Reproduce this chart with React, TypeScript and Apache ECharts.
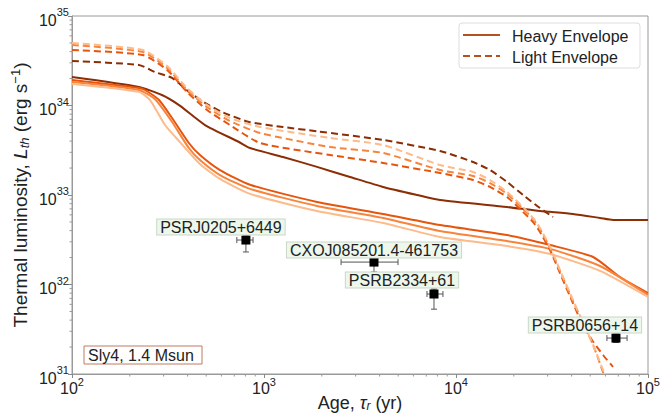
import React, { useEffect, useRef } from 'react';
import * as echarts from 'echarts';

// ---- Heavy envelope cooling curves (solid) ----
const heavyAge1 = [100, 223, 294, 361, 493, 741, 845, 1256, 1888, 2805, 4170, 6270, 8260, 18440, 27380, 40650, 56230, 65750, 100000];
const heavyLum1 = [2.08e34, 1.61e34, 1.31e34, 1.01e34, 6.05e33, 3.91e33, 3.35e33, 2.66e33, 2.06e33, 1.59e33, 1.23e33, 1.0e33, 8.79e32, 7.34e32, 6.62e32, 6.14e32, 5.54e32, 5.26e32, 5.26e32];
const heavyAge2 = [100, 223, 240, 284, 332, 406, 464, 590, 845, 1888, 4170, 8260, 18440, 30900, 51800, 71500, 100000];
const heavyLum2 = [1.93e34, 1.57e34, 1.49e34, 1.15e34, 7.24e33, 3.81e33, 2.80e33, 1.90e33, 1.30e33, 8.36e32, 6.14e32, 4.62e32, 3.57e32, 2.76e32, 2.03e32, 1.21e32, 8.03e31];
const heavyAge3 = [100, 223, 270, 332, 406, 464, 590, 845, 1888, 4170, 8260, 18440, 30900, 56230, 100000];
const heavyLum3 = [1.83e34, 1.49e34, 1.18e34, 6.55e33, 3.35e33, 2.46e33, 1.67e33, 1.17e33, 7.54e32, 5.54e32, 3.96e32, 3.06e32, 2.50e32, 1.61e32, 7.64e31];
const heavyAge4 = [100, 223, 255, 305, 365, 464, 590, 845, 1888, 4170, 8260, 18440, 30900, 56230, 100000];
const heavyLum4 = [1.74e34, 1.42e34, 1.15e34, 6.05e33, 3.9e33, 2.22e33, 1.51e33, 1.03e33, 6.62e32, 4.87e32, 3.40e32, 2.69e32, 2.19e32, 1.42e32, 7.25e31];

// ---- Light envelope cooling curves (dashed) ----
const lightAge1 = [100, 223, 270, 332, 406, 493, 604, 836, 1256, 1888, 4170, 8260, 12270, 15040, 18440, 22340, 27380, 32000];
const lightLum1 = [3.14e34, 2.84e34, 2.37e34, 2.03e34, 1.42e34, 1.07e34, 8.46e33, 6.55e33, 5.75e33, 5.15e33, 4.12e33, 3.10e33, 2.34e33, 1.90e33, 1.40e33, 1.0e33, 7.16e32, 5.68e32];
const lightAge2 = [100, 234, 313, 397, 505, 665, 953, 2208, 4170, 8260, 12270, 15040, 18440, 22340, 25200, 27380, 30900, 34800, 40650, 45800, 51100, 58300, 65750];
const lightLum2 = [4.17e34, 3.66e34, 2.50e34, 1.42e34, 8.91e33, 6.05e33, 3.81e33, 2.80e33, 2.28e33, 1.76e33, 1.47e33, 1.23e33, 9.51e32, 6.46e32, 4.99e32, 3.86e32, 2.43e32, 1.34e32, 6.21e31, 3.52e31, 2.40e31, 1.63e31, 1.20e31];
const lightAge3 = [100, 234, 313, 397, 505, 665, 953, 2208, 4170, 8260, 12270, 15040, 18440, 22340, 25200, 27380, 30900, 34800, 40650, 45800, 51800, 58300, 63400];
const lightLum3 = [4.74e34, 3.96e34, 2.62e34, 1.49e34, 9.6e33, 6.71e33, 4.93e33, 3.44e33, 2.95e33, 1.90e33, 1.63e33, 1.36e33, 1.03e33, 6.98e32, 5.40e32, 4.17e32, 2.56e32, 1.42e32, 6.55e31, 3.72e31, 2.11e31, 1.05e31, 6.63e30];
const lightAge4 = [100, 234, 313, 397, 505, 665, 953, 2208, 4170, 8260, 12270, 15040, 18440, 22340, 25200, 27380, 30900, 34800, 40650, 45800, 51800, 59700, 64900];
const lightLum4 = [4.99e34, 4.17e34, 2.76e34, 1.57e34, 1.01e34, 7.24e33, 5.75e33, 4.34e33, 3.62e33, 2.16e33, 1.81e33, 1.47e33, 1.08e33, 7.34e32, 5.54e32, 4.28e32, 2.63e32, 1.45e32, 6.72e31, 3.81e31, 2.11e31, 9.75e30, 6.29e30];

// ---- Observed pulsars ----
const pulsarNames = ['PSRJ0205+6449', 'CXOJ085201.4-461753', 'PSRB2334+61', 'PSRB0656+14'];
const pulsarAge = [805, 3740, 7680, 68100];
const pulsarLum = [3.14e32, 1.78e32, 7.83e31, 2.52e31];
const pulsarAgeLo = [722, 2520, 7060, 61100];
const pulsarAgeHi = [877, 4990, 8550, 77800];
const pulsarLumLo = [2.31e32, 1.38e32, 5.3e31, 2.25e31];
const pulsarLumHi = [3.5e32, 1.95e32, 8.9e31, 2.8e31];

// ---- Axis ticks ----
const xMinorTicks = [200, 300, 400, 500, 600, 700, 800, 900, 2000, 3000, 4000, 5000, 6000, 7000, 8000, 9000, 20000, 30000, 40000, 50000, 60000, 70000, 80000, 90000];
const yMinorTicks = [2e31, 3e31, 4e31, 5e31, 6e31, 7e31, 8e31, 9e31, 2e32, 3e32, 4e32, 5e32, 6e32, 7e32, 8e32, 9e32, 2e33, 3e33, 4e33, 5e33, 6e33, 7e33, 8e33, 9e33, 2e34, 3e34, 4e34, 5e34, 6e34, 7e34, 8e34, 9e34];

const COLORS = ['#8c2d04', '#e6550d', '#f7843c', '#fdba8a'];
const FONT = 'Liberation Sans, Arial, sans-serif';

const labelOffsets: Record<string, number[]> = {
  'PSRJ0205+6449': [-25, -13],
  'CXOJ085201.4-461753': [0, -12],
  'PSRB2334+61': [-32, -14],
  'PSRB0656+14': [-31, -13],
};

function pairs(a: number[], b: number[]) {
  return a.map((v, i) => [v, b[i]]);
}

export default function App() {
  const ref = useRef<HTMLDivElement>(null);
  useEffect(() => {
    if (!ref.current) return;
    const chart = echarts.init(ref.current, undefined, { renderer: 'svg' });

    const heavy = [
      pairs(heavyAge1, heavyLum1),
      pairs(heavyAge2, heavyLum2),
      pairs(heavyAge3, heavyLum3),
      pairs(heavyAge4, heavyLum4),
    ];
    const light = [
      pairs(lightAge1, lightLum1),
      pairs(lightAge2, lightLum2),
      pairs(lightAge3, lightLum3),
      pairs(lightAge4, lightLum4),
    ];

    const lineSeries: any[] = [];
    heavy.forEach((d, i) =>
      lineSeries.push({
        type: 'line', data: d, showSymbol: false, smooth: 0.2,
        lineStyle: { color: COLORS[i], width: 2, join: 'round' }, z: 2, silent: true,
      })
    );
    light.forEach((d, i) =>
      lineSeries.push({
        type: 'line', data: d, showSymbol: false, smooth: 0.2,
        lineStyle: { color: COLORS[i], width: 2, type: [7, 4] }, z: 2, silent: true,
      })
    );

    const tickLabelRichX = {
      b: { fontSize: 16, fontFamily: FONT, color: '#222', padding: [4, 0, 0, 0] },
      s: { fontSize: 11, fontFamily: FONT, color: '#222', padding: [0, 0, 8, 0] },
    };
    const tickLabelRichY = {
      b: { fontSize: 16, fontFamily: FONT, color: '#222', padding: [8, 0, 0, 0] },
      s: { fontSize: 11, fontFamily: FONT, color: '#222', padding: [0, 0, 8, 0] },
    };
    const expFmt = (v: number) => `{b|10}{s|${Math.round(Math.log10(v))}}`;

    const option: any = {
      animation: false,
      backgroundColor: '#fff',
      grid: {
        left: 72, right: 14, top: 16, bottom: 42,
        show: true, borderColor: '#9a9a9a', borderWidth: 1,
        containLabel: false, outerBoundsMode: 'none',
      },
      xAxis: {
        type: 'log', logBase: 10, min: 100, max: 100000,
        axisLine: { show: true, lineStyle: { color: '#9a9a9a' } },
        axisTick: { show: true, length: 4, lineStyle: { color: '#888' } },
        splitLine: { show: false },
        minorTick: { show: false },
        axisLabel: { formatter: expFmt, rich: tickLabelRichX, margin: 2 },
        name: '{a|Age, }{g|τ}{sub|r}{a| (yr)}',
        nameLocation: 'middle', nameGap: 20, nameMoveOverlap: false,
        nameTextStyle: {
          rich: {
            a: { fontSize: 18, fontFamily: FONT, color: '#222' },
            g: { fontSize: 18, fontFamily: FONT, color: '#222', fontStyle: 'italic' },
            sub: { fontSize: 12, fontFamily: FONT, color: '#222', fontStyle: 'italic', padding: [6, 0, 0, 0] },
          },
        },
      },
      yAxis: {
        type: 'log', logBase: 10, min: 1e31, max: 1e35,
        axisLine: { show: true, lineStyle: { color: '#9a9a9a' } },
        axisTick: { show: true, length: 4, lineStyle: { color: '#888' } },
        splitLine: { show: false },
        minorTick: { show: false },
        axisLabel: { formatter: expFmt, rich: tickLabelRichY, margin: 3 },
        name: '{a|Thermal luminosity, }{i|L}{sub|th}{a| (erg s}{sup|−1}{a|)}',
        nameLocation: 'middle', nameGap: 40, nameRotate: 90, nameMoveOverlap: false,
        nameTextStyle: {
          rich: {
            a: { fontSize: 19, fontFamily: FONT, color: '#222' },
            i: { fontSize: 19, fontFamily: FONT, color: '#222', fontStyle: 'italic' },
            sub: { fontSize: 13, fontFamily: FONT, color: '#222', fontStyle: 'italic', padding: [8, 0, 0, 0] },
            sup: { fontSize: 13, fontFamily: FONT, color: '#222', padding: [0, 0, 10, 0] },
          },
        },
      },
      series: [
        ...lineSeries,
        {
          type: 'custom', silent: true, z: 1, clip: false,
          data: xMinorTicks.map((v) => [v, 1e31]),
          encode: { x: 0, y: 1 },
          renderItem: (_p: any, api: any) => {
            const pt = api.coord([api.value(0), api.value(1)]);
            return { type: 'line', shape: { x1: pt[0], y1: pt[1], x2: pt[0], y2: pt[1] + 2.5 }, style: { stroke: '#999', lineWidth: 1 } };
          },
        },
        {
          type: 'custom', silent: true, z: 1, clip: false,
          data: yMinorTicks.map((v) => [100, v]),
          encode: { x: 0, y: 1 },
          renderItem: (_p: any, api: any) => {
            const pt = api.coord([api.value(0), api.value(1)]);
            return { type: 'line', shape: { x1: pt[0], y1: pt[1], x2: pt[0] - 2.5, y2: pt[1] }, style: { stroke: '#999', lineWidth: 1 } };
          },
        },
        {
          type: 'custom', silent: true, z: 3,
          data: pulsarAge.map((a, i) => [a, pulsarLum[i], pulsarAgeLo[i], pulsarAgeHi[i], pulsarLumLo[i], pulsarLumHi[i]]),
          encode: { x: 0, y: 1 },
          renderItem: (_p: any, api: any) => {
            const t = api.value(0), L = api.value(1);
            const pl = api.coord([api.value(2), L]);
            const pr = api.coord([api.value(3), L]);
            const pb = api.coord([t, api.value(4)]);
            const pt = api.coord([t, api.value(5)]);
            const cap = 3;
            const st = { stroke: '#555', lineWidth: 1 };
            return {
              type: 'group',
              children: [
                { type: 'line', shape: { x1: pl[0], y1: pl[1], x2: pr[0], y2: pr[1] }, style: st },
                { type: 'line', shape: { x1: pl[0], y1: pl[1] - cap, x2: pl[0], y2: pl[1] + cap }, style: st },
                { type: 'line', shape: { x1: pr[0], y1: pr[1] - cap, x2: pr[0], y2: pr[1] + cap }, style: st },
                { type: 'line', shape: { x1: pb[0], y1: pb[1], x2: pt[0], y2: pt[1] }, style: st },
                { type: 'line', shape: { x1: pb[0] - cap, y1: pb[1], x2: pb[0] + cap, y2: pb[1] }, style: st },
                { type: 'line', shape: { x1: pt[0] - cap, y1: pt[1], x2: pt[0] + cap, y2: pt[1] }, style: st },
              ],
            };
          },
        },
        {
          type: 'scatter', z: 4, silent: true,
          symbol: 'rect', symbolSize: 9,
          itemStyle: { color: '#000', opacity: 1 },
          data: pulsarNames.map((n, i) => ({
            name: n,
            value: [pulsarAge[i], pulsarLum[i]],
            label: { offset: labelOffsets[n] },
          })),
          label: {
            show: true, position: 'inside', formatter: '{b}',
            fontSize: 16, fontFamily: FONT, color: '#222',
            backgroundColor: '#edf7ec', borderColor: '#c8d8c6', borderWidth: 1,
            padding: [1, 3, 0, 3], lineHeight: 14,
          },
        },
      ],
      graphic: [
        {
          type: 'rect', z: 100,
          shape: { x: 459, y: 23, width: 181, height: 45, r: 3 },
          style: { fill: '#fff', stroke: '#dddddd', lineWidth: 1 },
        },
        {
          type: 'line', z: 101,
          shape: { x1: 463, y1: 35, x2: 500, y2: 35 },
          style: { stroke: '#b5501f', lineWidth: 2 },
        },
        {
          type: 'line', z: 101,
          shape: { x1: 463, y1: 56, x2: 500, y2: 56 },
          style: { stroke: '#b5501f', lineWidth: 2, lineDash: [7, 4] },
        },
        {
          type: 'text', z: 101, x: 512, y: 36,
          style: { text: 'Heavy Envelope', fontSize: 16, fontFamily: FONT, fill: '#222', verticalAlign: 'middle' },
        },
        {
          type: 'text', z: 101, x: 512, y: 57,
          style: { text: 'Light Envelope', fontSize: 16, fontFamily: FONT, fill: '#222', verticalAlign: 'middle' },
        },
        {
          type: 'rect', z: 100,
          shape: { x: 84, y: 346, width: 118, height: 18 },
          style: { fill: '#fff', stroke: '#c07a62', lineWidth: 1 },
        },
        {
          type: 'text', z: 101, x: 88, y: 355,
          style: { text: 'Sly4, 1.4 Msun', fontSize: 16, fontFamily: FONT, fill: '#222', verticalAlign: 'middle' },
        },
      ],
    };

    chart.setOption(option);
    return () => chart.dispose();
  }, []);

  return <div ref={ref} style={{ position: 'fixed', left: 0, top: 0, width: 662, height: 416 }} />;
}
